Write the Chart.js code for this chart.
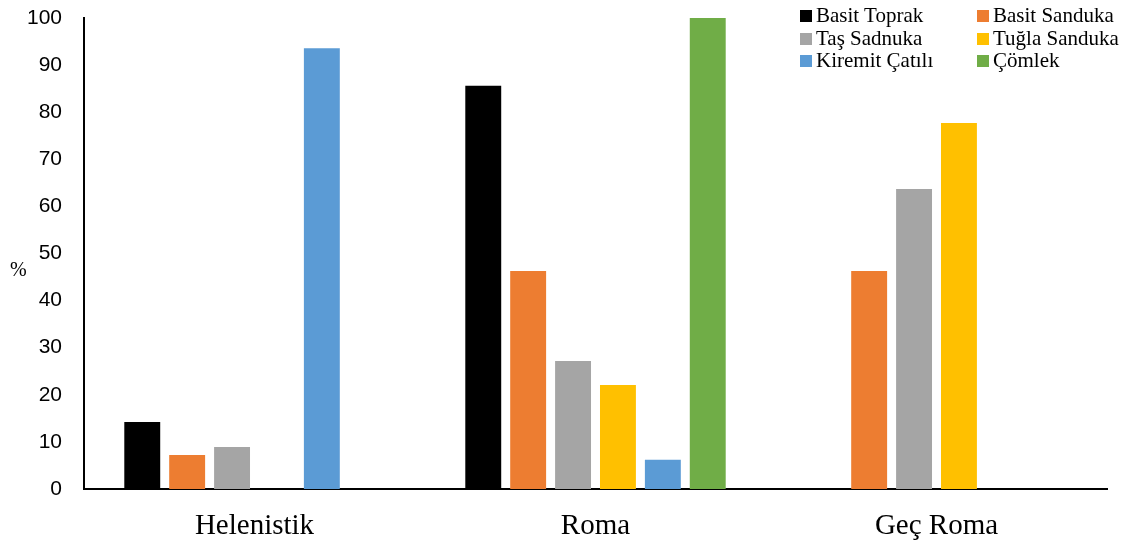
<!DOCTYPE html>
<html>
<head>
<meta charset="utf-8">
<script src="https://cdn.jsdelivr.net/npm/chart.js@4/dist/chart.umd.min.js"></script>
<style>
  html, body { margin: 0; padding: 0; background: #fff; }
  #wrap { position: relative; width: 1133px; height: 541px; }
  #ylab { position: absolute; left: 10px; top: 258px; font: 20px "Liberation Serif", serif; color: #000; }
  #legend { position: absolute; left: 800px; top: 4px; font: 21px "Liberation Serif", serif; color: #000; }
  .item { position: absolute; white-space: nowrap; line-height: 23px; }
  .item span { display: inline-block; width: 12px; height: 12px; margin-right: 4px; vertical-align: 0px; }
</style>
</head>
<body>
<div id="wrap">
  <canvas id="c" width="1133" height="541"></canvas>
  <div id="ylab">%</div>
  <div id="legend"></div>
</div>
<script>
var periods = ["Helenistik", "Roma", "Geç Roma"];
var yTicks = [0, 10, 20, 30, 40, 50, 60, 70, 80, 90, 100];

var basitToprak   = [14.2, 85.6, null];
var basitSanduka  = [7.2, 46.3, 46.3];
var tasSadnuka    = [8.9, 27.2, 63.7];
var tuglaSanduka  = [null, 22.1, 77.7];
var kiremitCatili = [93.6, 6.2, null];
var comlek        = [null, 100, null];

var seriesNames  = ["Basit Toprak", "Basit Sanduka", "Taş Sadnuka", "Tuğla Sanduka", "Kiremit Çatılı", "Çömlek"];
var seriesColors = ["#000000", "#ED7D31", "#A5A5A5", "#FFC000", "#5B9BD5", "#70AD47"];
var seriesData   = [basitToprak, basitSanduka, tasSadnuka, tuglaSanduka, kiremitCatili, comlek];

var datasets = seriesNames.map(function(name, i) {
	return {
		label: name,
		data: seriesData[i],
		backgroundColor: seriesColors[i],
		barPercentage: 0.8,
		categoryPercentage: 0.79
	};
});

// legend, 2 columns x 3 rows
var legend = document.getElementById("legend");
seriesNames.forEach(function(name, i) {
	var d = document.createElement("div");
	d.className = "item";
	d.style.left = (i % 2 ? 177 : 0) + "px";
	d.style.top = (Math.floor(i / 2) * 22.5) + "px";
	d.innerHTML = "<span style='background:" + seriesColors[i] + "'></span>" + name;
	legend.appendChild(d);
});

new Chart(document.getElementById("c"), {
	type: "bar",
	data: { labels: periods, datasets: datasets },
	options: {
		responsive: false,
		animation: false,
		devicePixelRatio: 1,
		layout: { padding: { left: 0, right: 26, top: 18, bottom: 0 } },
		plugins: { legend: { display: false }, tooltip: { enabled: false } },
		scales: {
			x: {
				grid: { display: false, drawTicks: false },
				border: { color: "#000", width: 2 },
				ticks: { color: "#000", padding: 20, font: { family: "Liberation Serif", size: 29 } },
				afterFit: function(s) { s.height = 52; }
			},
			y: {
				min: 0, max: 100,
				afterBuildTicks: function(s) { s.ticks = yTicks.map(function(v) { return { value: v }; }); },
				grid: { display: false, drawTicks: false },
				border: { color: "#000", width: 2 },
				ticks: { color: "#000", padding: 22, font: { family: "Liberation Sans", size: 21 } },
				afterFit: function(s) { s.width = 84; s.paddingTop = 0; s.paddingBottom = 0; }
			}
		}
	}
});
</script>
</body>
</html>
